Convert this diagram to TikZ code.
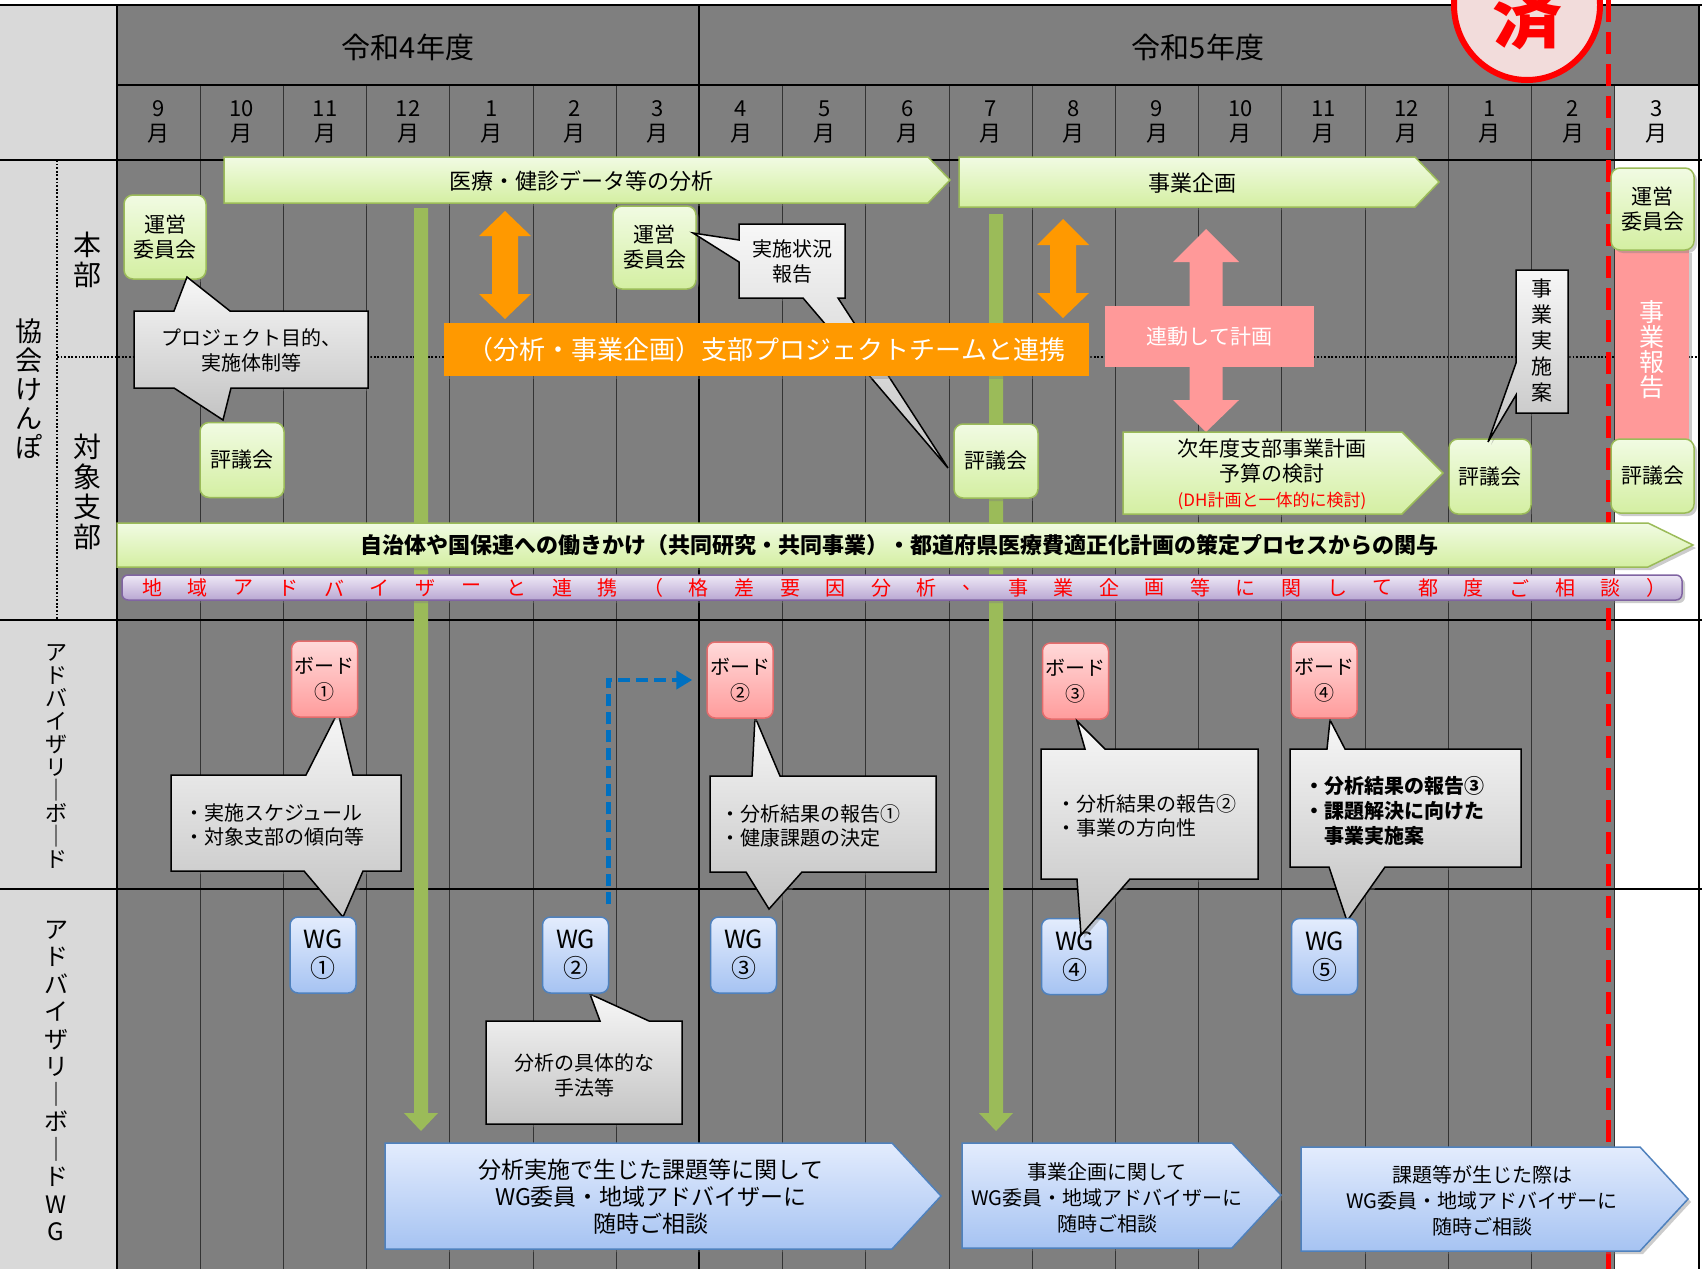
\documentclass[tikz,border=0pt]{standalone}
\usepackage{fontspec}
\setmainfont{Noto Sans CJK JP}
\usetikzlibrary{shadows,arrows.meta}
\definecolor{dgray}{HTML}{7F7F7F}
\definecolor{lgray}{HTML}{D9D9D9}
\definecolor{grnB}{HTML}{9BBB59}
\definecolor{grnT}{HTML}{F1FBE3}
\definecolor{grnD}{HTML}{D4EFA2}
\definecolor{pinkB}{HTML}{E46C6C}
\definecolor{pinkT}{HTML}{FFD9D9}
\definecolor{pinkD}{HTML}{FF9C9C}
\definecolor{bluB}{HTML}{4F81BD}
\definecolor{bluT}{HTML}{E3ECFD}
\definecolor{bluD}{HTML}{A6C3F2}
\definecolor{calT}{HTML}{F7F7F7}
\definecolor{calD}{HTML}{C3C3C3}
\definecolor{orng}{HTML}{FF9900}
\definecolor{pnk}{HTML}{FF9999}
\definecolor{purB}{HTML}{8064A2}
\definecolor{purT}{HTML}{EEE8F6}
\definecolor{purD}{HTML}{B9A7D2}
\definecolor{stampbg}{HTML}{F2DCDB}
\definecolor{dblue}{HTML}{0070C0}
\newcommand\fs[2]{\fontsize{#1}{#2}\selectfont}
\begin{document}
\begin{tikzpicture}[x=1pt,y=-1pt,
  shd/.style={drop shadow={opacity=0.4,shadow xshift=3pt,shadow yshift=-3pt}},
  gbox/.style={draw=grnB,line width=1.5pt,rounded corners=9pt,top color=grnT,bottom color=grnD,shd,align=center,inner sep=0pt,font=\fs{21}{25}},
  garrow/.style={draw=grnB,line width=1.5pt,top color=grnT,bottom color=grnD,shd},
  callout/.style={draw=black,line width=1.5pt,top color=calT,bottom color=calD,shd},
  ctext/.style={align=left,inner sep=0pt,font=\fs{20}{24}},
  bboard/.style={draw=pinkB,line width=1.5pt,rounded corners=8pt,top color=pinkT,bottom color=pinkD,shd,align=center,inner sep=0pt,minimum width=66pt,minimum height=76pt,font=\fs{20}{26}},
  wgbox/.style={draw=bluB,line width=1.5pt,rounded corners=8pt,top color=bluT,bottom color=bluD,shd,align=center,inner sep=0pt,minimum width=66pt,minimum height=76pt,font=\fs{25}{29}},
  barrow/.style={draw=bluB,line width=1.5pt,top color=bluT,bottom color=bluD,shd},
  mon/.style={font=\fs{22}{25},align=center,inner sep=0pt},
  gridl/.style={black!80,line width=0.8pt},
  bl/.style={black,line width=2.5pt},
  dotl/.style={black,line width=1.8pt,dash pattern=on 1.8pt off 1.8pt},
  vtxt/.style={align=center,inner sep=0pt}]
\useasboundingbox (0,0) rectangle (1702,1269);
\clip (0,0) rectangle (1702,1269);
% backgrounds
\fill[white] (0,0) rectangle (1702,1269);
\fill[lgray] (0,5) rectangle (117,1269);
\fill[dgray] (117,5) rectangle (1699,160);
\fill[lgray] (1614.6,85) rectangle (1699,160);
\fill[dgray] (117,160) rectangle (1614.6,1269);
% grid
\foreach \i in {1,...,6,8,9,...,18} \draw[gridl] ({117+83.2*\i},85) -- ({117+83.2*\i},1269);
\draw[black,line width=2pt] (699.4,5) -- (699.4,1269);
\draw[bl] (0,5) -- (1702,5);
\draw[black,line width=2pt] (117,85) -- (1699,85);
\draw[bl] (0,160) -- (1702,160);
\draw[bl] (0,620) -- (1702,620);
\draw[bl] (0,889) -- (1702,889);
\draw[bl] (117,5) -- (117,1269);
\draw[black,line width=2pt] (1699,5) -- (1699,1269);
% header text
\node[font=\fs{29}{32}] (y4) at (408,47) {令和4年度};
\node[font=\fs{29}{32}] (y5) at (1198,47) {令和5年度};
\foreach \m [count=\i from 0] in {9,10,11,12,1,2,3,4,5,6,7,8,9,10,11,12,1,2,3}
  \node[mon] (m\i) at ({117+83.2*(\i+0.5)},122) {\m\\月};
% dotted lines
\draw[dotl] (57,160) -- (57,620);
\draw[dotl] (57,357) -- (1699,357);
% left labels
\node[vtxt,font=\fs{27}{29}] (lk) at (29,389) {協\\会\\け\\ん\\ぽ};
\node[vtxt,font=\fs{28}{30}] (lh) at (87,260) {本\\部};
\node[vtxt,font=\fs{28}{30}] (ls) at (87,492) {対\\象\\支\\部};
\node[vtxt,font=\fs{22}{23}] (lb) at (56,756) {ア\\ド\\バ\\イ\\ザ\\リ\\｜\\ボ\\｜\\ド};
\node[vtxt,font=\fs{24}{27.5}] (lw) at (56,1081) {ア\\ド\\バ\\イ\\ザ\\リ\\｜\\ボ\\｜\\ド\\W\\G};
% red dashed line and stamp
\draw[red,line width=5pt,dash pattern=on 22pt off 10pt] (1608,0) -- (1608,1269);
\draw[red,line width=6pt,fill=stampbg] (1527,5) ellipse [x radius=73pt,y radius=75pt];
\node[red,font=\fs{70}{72}\bfseries] (stamp) at (1527,16) {済};
% green vertical arrows
\path[fill=grnB] (414,208) -- (428,208) -- (428,1113) -- (438,1113) -- (421,1131) -- (404,1113) -- (414,1113) -- cycle;
\path[fill=grnB] (989,214) -- (1003,214) -- (1003,1113) -- (1013,1113) -- (996,1131) -- (979,1113) -- (989,1113) -- cycle;
% top green arrows
\path[garrow] (224,157) -- (928,157) -- (950,180) -- (928,203) -- (224,203) -- cycle;
\node[font=\fs{22}{25}] (t1) at (581,181) {医療・健診データ等の分析};
\path[garrow] (959,157) -- (1415,157) -- (1439,182) -- (1415,207) -- (959,207) -- cycle;
\node[font=\fs{22}{25}] (t2) at (1192,183) {事業企画};
% left honbu nodes
\node[gbox,minimum width=82pt,minimum height=84pt] (u1) at (165,237) {運営\\委員会};
\node[gbox,minimum width=84pt,minimum height=75pt] (h1) at (242,460) {評議会};
\path[callout] (134,311) -- (174,311) -- (187,277) -- (230,311) -- (368,311) -- (368,388) -- (231,388) -- (223,420) -- (174,388) -- (134,388) -- cycle;
\node[align=center,inner sep=0pt,font=\fs{20}{25}] (cp) at (251,350) {プロジェクト目的、\\実施体制等};
% middle
\node[gbox,minimum width=83pt,minimum height=83pt] (u2) at (654.5,247.5) {運営\\委員会};
\path[callout] (739,224) -- (845,224) -- (845,298) -- (838,298) -- (948,468) -- (803,298) -- (739,298) -- (739,262) -- (693,233) -- (739,240) -- cycle;
\node[align=center,inner sep=0pt,font=\fs{20}{25}] (cj) at (792,261) {実施状況\\報告};
\node[gbox,minimum width=84pt,minimum height=74pt] (h2) at (996,461) {評議会};
% orange
\node[fill=orng,shd,minimum width=645pt,minimum height=53pt,inner sep=0pt,text=white,font=\fs{26}{28}] (ob) at (766.5,349.5) {（分析・事業企画）支部プロジェクトチームと連携};
\path[fill=orng] (505,211) -- (531,236) -- (518,236) -- (518,294) -- (531,294) -- (505,319) -- (479,294) -- (492,294) -- (492,236) -- (479,236) -- cycle;
\path[fill=orng] (1063,219) -- (1089,245) -- (1076,245) -- (1076,293) -- (1089,293) -- (1063,318) -- (1037,293) -- (1050,293) -- (1050,245) -- (1037,245) -- cycle;
% pink linked
\path[fill=pnk] (1206,229) -- (1239,262) -- (1222.5,262) -- (1222.5,400) -- (1239,400) -- (1206,432) -- (1173,400) -- (1189.5,400) -- (1189.5,262) -- (1173,262) -- cycle;
\node[fill=pnk,minimum width=209pt,minimum height=61pt,inner sep=0pt,text=white,font=\fs{21}{24}] (pk) at (1209.5,336.5) {連動して計画};
% next year plan
\path[garrow] (1123,432) -- (1402,432) -- (1443,473) -- (1402,514) -- (1123,514) -- cycle;
\node[align=center,inner sep=0pt,font=\fs{21}{25}] (ny) at (1272,474) {次年度支部事業計画\\予算の検討\\{\fs{17}{25}\color{red}(DH計画と一体的に検討)}};
\node[gbox,minimum width=82pt,minimum height=75pt] (h3) at (1490,476.5) {評議会};
\path[callout] (1516,270) -- (1568,270) -- (1568,413) -- (1516,413) -- (1516,395) -- (1488,442) -- (1516,363) -- cycle;
\node[vtxt,font=\fs{21}{26}] (cv) at (1542,341) {事\\業\\実\\施\\案};
% last column
\node[fill=pnk,shd,minimum width=74pt,minimum height=190pt,inner sep=0pt] (hk) at (1652,345) {};
\node[vtxt,text=white,font=\fs{25}{25}] (hkt) at (1652,350) {事\\業\\報\\告};
\node[gbox,minimum width=83pt,minimum height=82pt] (u3) at (1652.5,209) {運営\\委員会};
\node[gbox,minimum width=83pt,minimum height=74pt] (h4) at (1652.5,476) {評議会};
% big green arrow and purple bar
\path[garrow] (117,523) -- (1648,523) -- (1693,545) -- (1648,567) -- (117,567) -- cycle;
\node[font=\fs{22}{25}\bfseries] (bg) at (899,545) {自治体や国保連への働きかけ（共同研究・共同事業）・都道府県医療費適正化計画の策定プロセスからの関与};
\path[draw=purB,line width=1.5pt,rounded corners=6pt,top color=purT,bottom color=purD,shd] (122,575) rectangle (1682,600);
\foreach \c [count=\i from 0] in {地,域,ア,ド,バ,イ,ザ,ー,と,連,携,（,格,差,要,因,分,析,、,事,業,企,画,等,に,関,し,て,都,度,ご,相,談,）}
  \node[red,inner sep=0pt,font=\fs{20}{22}] (p\i) at ({152+\i*45.58},588) {\c};
% board row callouts
\path[callout] (171,775) -- (306,775) -- (338,712) -- (353,775) -- (401,775) -- (401,871) -- (363,871) -- (343,917) -- (304,871) -- (171,871) -- cycle;
\node[ctext,anchor=west] (ca) at (184,825) {・実施スケジュール\\・対象支部の傾向等};
\path[callout] (710,776) -- (752,776) -- (755,717) -- (780,776) -- (936,776) -- (936,872) -- (802,872) -- (769,909) -- (746,872) -- (710,872) -- cycle;
\node[ctext,anchor=west] (cb) at (720,826) {・分析結果の報告①\\・健康課題の決定};
\path[callout] (1290,749) -- (1327,749) -- (1330,720) -- (1345,749) -- (1521,749) -- (1521,867) -- (1385,867) -- (1347,921) -- (1329,867) -- (1290,867) -- cycle;
\node[ctext,anchor=west,font=\fs{20}{25}\bfseries] (cdd) at (1304,811) {・分析結果の報告③\\・課題解決に向けた\\\hspace*{1em}事業実施案};
\path[callout] (486,1021) -- (600,1021) -- (590,994) -- (649,1021) -- (682,1021) -- (682,1124) -- (486,1124) -- cycle;
\node[align=center,inner sep=0pt,font=\fs{20}{25}] (ce) at (584,1075) {分析の具体的な\\手法等};
% boards
\node[bboard] (b1) at (324.5,679) {ボード\\①};
\node[bboard] (b2) at (740,680) {ボード\\②};
\node[bboard] (b3) at (1075.5,681) {ボード\\③};
\node[bboard] (b4) at (1324,680) {ボード\\④};
% WGs
\node[wgbox] (w1) at (323,955) {WG\\①};
\node[wgbox] (w2) at (575.5,955) {WG\\②};
\node[wgbox] (w3) at (743.5,955) {WG\\③};
\node[wgbox] (w4) at (1074.5,956.5) {WG\\④};
\node[wgbox] (w5) at (1324.5,956.5) {WG\\⑤};
% callout C over WG4
\path[callout] (1041,749) -- (1085,749) -- (1077,721) -- (1105,749) -- (1258,749) -- (1258,879) -- (1130,879) -- (1081,935) -- (1077,879) -- (1041,879) -- cycle;
\node[ctext,anchor=west] (cc) at (1056,816) {・分析結果の報告②\\・事業の方向性};
% blue dashed arrow
\draw[dblue,line width=4.5pt,dash pattern=on 12pt off 6pt,-{Triangle[length=16pt,width=18pt]},shorten >=14pt] ([xshift=-1pt,yshift=12pt]w2.north east) |- (b2.west);
% bottom blue arrows
\path[barrow] (385,1143) -- (892,1143) -- (941,1196) -- (892,1249) -- (385,1249) -- cycle;
\node[align=center,inner sep=0pt,font=\fs{23}{27}] (f1) at (651,1197) {分析実施で生じた課題等に関して\\WG委員・地域アドバイザーに\\随時ご相談};
\path[barrow] (962,1143) -- (1232,1143) -- (1281,1195) -- (1232,1248) -- (962,1248) -- cycle;
\node[align=center,inner sep=0pt,font=\fs{20}{26}] (f2) at (1107,1198) {事業企画に関して\\WG委員・地域アドバイザーに\\随時ご相談};
\path[barrow] (1301,1147) -- (1640,1147) -- (1688,1199) -- (1640,1251) -- (1301,1251) -- cycle;
\node[align=center,inner sep=0pt,font=\fs{20}{26}] (f3) at (1482,1201) {課題等が生じた際は\\WG委員・地域アドバイザーに\\随時ご相談};
\end{tikzpicture}
\end{document}
